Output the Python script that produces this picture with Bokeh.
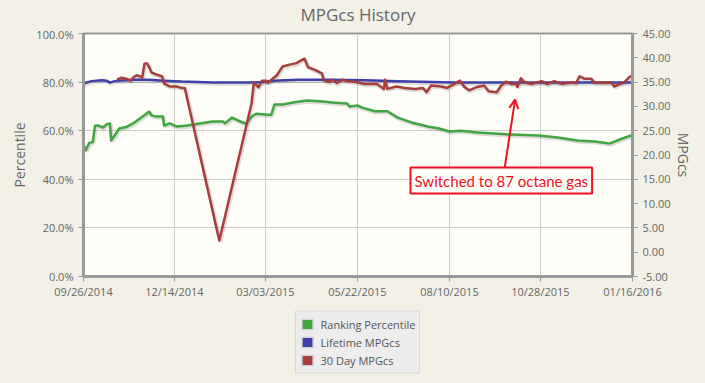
import pandas as pd
from bokeh.plotting import figure
from bokeh.layouts import column
from bokeh.models import (Range1d, LinearAxis, FixedTicker, DatetimeTickFormatter,
                          PrintfTickFormatter, Legend, LegendItem, Label, Arrow,
                          OpenHead, ColumnDataSource)
from bokeh.transform import dodge
from bokeh.embed import file_html
from bokeh.resources import INLINE

# ---------------- data ----------------
title_text = "MPGcs History"
x_tick_labels = ["09/26/2014", "12/14/2014", "03/03/2015", "05/22/2015",
                 "08/10/2015", "10/28/2015", "01/16/2016"]
pct_ticks = [0, 20, 40, 60, 80, 100]
mpg_ticks = [-5, 0, 5, 10, 15, 20, 25, 30, 35, 40, 45]

rank_dates = ["2014-09-26", "2014-09-28", "2014-10-01", "2014-10-04", "2014-10-06", "2014-10-09",
              "2014-10-13", "2014-10-16", "2014-10-19", "2014-10-20", "2014-10-23", "2014-10-27",
              "2014-11-02", "2014-11-08", "2014-11-14", "2014-11-20", "2014-11-22", "2014-11-24",
              "2014-11-28", "2014-12-04", "2014-12-05", "2014-12-10", "2014-12-16", "2014-12-25",
              "2015-01-05", "2015-01-16", "2015-01-25", "2015-01-27", "2015-02-02", "2015-02-09",
              "2015-02-14", "2015-02-19", "2015-02-23", "2015-03-08", "2015-03-11", "2015-03-18",
              "2015-03-27", "2015-04-08", "2015-04-22", "2015-04-30", "2015-05-13", "2015-05-15",
              "2015-05-22", "2015-05-26", "2015-06-06", "2015-06-17", "2015-06-26", "2015-07-08",
              "2015-07-22", "2015-07-31", "2015-08-10", "2015-08-20", "2015-09-03", "2015-09-18",
              "2015-10-03", "2015-10-26", "2015-11-12", "2015-11-29", "2015-12-14", "2015-12-27",
              "2016-01-07", "2016-01-15"]
rank_pct = [54, 52, 55, 55.3, 62, 62.1, 61.3, 62.6, 63, 56, 58, 60.9,
            61.5, 63, 65, 67.1, 67.9, 66.3, 65.8, 65.8, 62.1, 63, 61.7, 62.1,
            63, 63.8, 63.8, 63, 65.4, 63.8, 62.9, 65.8, 67.0, 66.5, 70.8, 70.8,
            71.6, 72.4, 72, 71.6, 71.2, 70, 70.4, 69.5, 68, 68, 65.4, 63.4,
            61.7, 61, 59.7, 60, 59.3, 58.8, 58.4, 58, 57.2, 56, 55.6, 54.7,
            56.8, 58]

life_dates = ["2014-09-26", "2014-10-03", "2014-10-12", "2014-10-16", "2014-10-19", "2014-10-23",
              "2014-11-07", "2014-11-21", "2014-12-05", "2014-12-20", "2015-01-17", "2015-02-16",
              "2015-03-02", "2015-03-11", "2015-03-31", "2015-04-29", "2015-05-28", "2015-06-26",
              "2015-07-25", "2015-08-14", "2016-01-16"]
life_mpg = [34.7, 35.2, 35.4, 35.3, 34.9, 35.2, 35.5, 35.5, 35.3, 35.1, 34.9, 34.9,
            35.0, 35.3, 35.5, 35.5, 35.4, 35.2, 35.0, 34.9, 34.9]

d30_dates = ["2014-10-25", "2014-10-29", "2014-11-02", "2014-11-06", "2014-11-08", "2014-11-11",
             "2014-11-14", "2014-11-16", "2014-11-18", "2014-11-20", "2014-11-22", "2014-11-24",
             "2014-11-28", "2014-12-03", "2014-12-04", "2014-12-05", "2014-12-10", "2014-12-16",
             "2014-12-20", "2014-12-23", "2015-01-22", "2015-02-19", "2015-02-21", "2015-02-25",
             "2015-02-28", "2015-03-04", "2015-03-05", "2015-03-13", "2015-03-18", "2015-03-24",
             "2015-03-30", "2015-04-04", "2015-04-06", "2015-04-09", "2015-04-16", "2015-04-21",
             "2015-04-23", "2015-04-28", "2015-04-30", "2015-05-04", "2015-05-09", "2015-05-13",
             "2015-05-21", "2015-05-28", "2015-06-08", "2015-06-14", "2015-06-15", "2015-06-17",
             "2015-06-25", "2015-07-02", "2015-07-11", "2015-07-18", "2015-07-21", "2015-07-25",
             "2015-08-03", "2015-08-08", "2015-08-14", "2015-08-19", "2015-08-23", "2015-08-27",
             "2015-09-03", "2015-09-09", "2015-09-13", "2015-09-20", "2015-09-24", "2015-09-28",
             "2015-10-03", "2015-10-07", "2015-10-08", "2015-10-11", "2015-10-14", "2015-10-20",
             "2015-10-29", "2015-11-03", "2015-11-09", "2015-11-16", "2015-11-24", "2015-11-28",
             "2015-12-01", "2015-12-05", "2015-12-11", "2015-12-14", "2015-12-29", "2015-12-31",
             "2016-01-05", "2016-01-09", "2016-01-13", "2016-01-16"]
d30_mpg = [35.5, 35.9, 35.7, 35.3, 35.9, 36.4, 36.2, 35.9, 38.8, 38.9, 38.1, 37.0,
           36.6, 36.2, 35.7, 34.7, 34.1, 34.1, 33.8, 33.8, 2.4, 30.6, 34.9, 33.9,
           35.3, 35.3, 34.8, 36.4, 38.2, 38.6, 38.9, 39.6, 39.8, 38.1, 37.4, 36.8,
           35.3, 35.0, 35.5, 34.8, 35.5, 35.2, 35.0, 34.6, 34.6, 33.6, 35.5, 33.6,
           34.1, 33.8, 33.6, 33.8, 32.9, 34.3, 34.1, 33.8, 34.6, 35.3, 34.0, 33.3,
           34.0, 34.3, 33.1, 32.9, 34.3, 35.1, 34.6, 34.6, 34.0, 35.8, 35.0, 34.6,
           35.2, 34.6, 35.2, 34.6, 35.0, 34.8, 36.2, 35.7, 35.7, 34.9, 34.9, 34.1,
           34.6, 35.0, 36.0, 36.4]

series_names = ["Ranking Percentile", "Lifetime MPGcs", "30 Day MPGcs"]

# annotation
note_text = "Switched to 87 octane gas"
note_date = "2015-09-24"
note_pct = 39.5
arrow_start = ("2015-09-27", 44.9)
arrow_end = ("2015-10-06", 72.8)

# ---------------- styles ----------------
PAGE_BG = "#F3F1E6"
PLOT_BG = "#FFFDF7"
GREEN = "#40A640"
BLUE = "#3F3FAD"
RED = "#A83D3D"
NOTE_RED = "#EE1122"
TXT = "#666666"
FONT = "Open Sans"


def strip(height):
    f = figure(width=705, height=height, output_backend="svg", toolbar_location=None,
               x_range=Range1d(0, 1), y_range=Range1d(0, 1),
               x_axis_location=None, y_axis_location=None,
               min_border=0, min_border_left=0, min_border_right=0,
               min_border_top=0, min_border_bottom=0)
    f.xgrid.visible = False
    f.ygrid.visible = False
    f.outline_line_color = None
    f.background_fill_color = PAGE_BG
    f.border_fill_color = PAGE_BG
    return f


# ----- title strip -----
head = strip(26)
head.add_layout(Label(x=0.5, y=0.46, text=title_text, text_align="center",
                      text_baseline="middle", text_font=FONT, text_font_size="17px",
                      text_color=TXT))

# ----- main chart -----
tick_ts = pd.to_datetime(x_tick_labels, format="%m/%d/%Y")
tick_ms = [t.value / 1e6 for t in tick_ts]

chart = figure(frame_width=549, frame_height=243, output_backend="svg", toolbar_location=None,
               x_axis_type="datetime",
               x_range=Range1d(tick_ts[0], tick_ts[-1]),
               y_range=Range1d(0, 100),
               min_border_left=83, min_border_right=73, min_border_top=7,
               min_border_bottom=30)
chart.extra_y_ranges = {"mpg": Range1d(-5, 45)}

chart.background_fill_color = PLOT_BG
chart.border_fill_color = PAGE_BG
chart.outline_line_color = "#9A9A9A"
chart.outline_line_width = 2

xt = FixedTicker(ticks=tick_ms)
chart.xaxis.ticker = xt
chart.xaxis.formatter = DatetimeTickFormatter(days="%m/%d/%Y", months="%m/%d/%Y",
                                              years="%m/%d/%Y", hours="%m/%d/%Y")
yt = FixedTicker(ticks=pct_ticks)
chart.yaxis.ticker = yt
chart.yaxis.formatter = PrintfTickFormatter(format="%.1f%%")
chart.yaxis.axis_label = "Percentile"

right = LinearAxis(y_range_name="mpg", ticker=FixedTicker(ticks=mpg_ticks),
                   formatter=PrintfTickFormatter(format="%.2f"), axis_label="MPGcs")
chart.add_layout(right, "right")

for ax in [chart.xaxis[0], chart.yaxis[0], right]:
    ax.axis_line_color = "#999999"
    ax.axis_line_width = 3
    ax.major_tick_line_color = "#999999"
    ax.major_tick_line_width = 1
    ax.major_tick_out = 5
    ax.major_tick_in = 0
    ax.minor_tick_line_color = None
    ax.major_label_text_font = FONT
    ax.major_label_text_font_size = "11px"
    ax.major_label_text_color = TXT
    ax.major_label_standoff = 5
    ax.axis_label_text_font = FONT
    ax.axis_label_text_font_size = "14px"
    ax.axis_label_text_color = TXT
    ax.axis_label_text_font_style = "normal"
chart.xaxis[0].major_label_standoff = 2
chart.yaxis[0].axis_label_standoff = 4
right.axis_label_standoff = 0

chart.xgrid.ticker = xt
chart.ygrid.ticker = yt
chart.xgrid.grid_line_color = "#CCCCCC"
chart.ygrid.grid_line_color = "#CCCCCC"

src_rank = ColumnDataSource(dict(x=pd.to_datetime(rank_dates), y=rank_pct))
src_life = ColumnDataSource(dict(x=pd.to_datetime(life_dates), y=life_mpg))
src_d30 = ColumnDataSource(dict(x=pd.to_datetime(d30_dates), y=d30_mpg))

DAY_PX = 0.87 * 86400000  # one pixel along x, in ms

# soft shadows under the lines
chart.line(x=dodge("x", DAY_PX, range=chart.x_range), y=dodge("y", -0.5), source=src_rank,
           line_color="black", line_alpha=0.13, line_width=4)
chart.line(x=dodge("x", DAY_PX, range=chart.x_range), y=dodge("y", -0.25), source=src_life,
           y_range_name="mpg", line_color="black", line_alpha=0.13, line_width=4)
chart.line(x=dodge("x", DAY_PX, range=chart.x_range), y=dodge("y", -0.25), source=src_d30,
           y_range_name="mpg", line_color="black", line_alpha=0.13, line_width=4)

chart.line("x", "y", source=src_rank, line_color=GREEN, line_width=2.5, line_join="round")
chart.line("x", "y", source=src_life, y_range_name="mpg", line_color=BLUE, line_width=2.5,
           line_join="round")
chart.line("x", "y", source=src_d30, y_range_name="mpg", line_color=RED, line_width=2.5,
           line_join="round")

chart.add_layout(Arrow(end=OpenHead(size=9, line_color=NOTE_RED, line_width=2),
                       x_start=pd.Timestamp(arrow_start[0]).value / 1e6, y_start=arrow_start[1],
                       x_end=pd.Timestamp(arrow_end[0]).value / 1e6, y_end=arrow_end[1],
                       line_color=NOTE_RED, line_width=2))
chart.add_layout(Label(x=pd.Timestamp(note_date).value / 1e6, y=note_pct, text=note_text,
                       text_align="center", text_baseline="middle", text_font="Lato",
                       text_font_size="15px", text_color=NOTE_RED, padding=4,
                       border_line_color=NOTE_RED, border_line_width=2,
                       background_fill_color=PLOT_BG, background_fill_alpha=1))

# ----- legend strip -----
leg = strip(71)
nan = float("nan")
swatch_src = ColumnDataSource(dict(left=[nan], right=[nan], top=[nan], bottom=[nan]))
items = []
for name, col in zip(series_names, [GREEN, BLUE, RED]):
    r = leg.quad(left="left", right="right", top="top", bottom="bottom", source=swatch_src,
                 fill_color=col, line_color="#D6D6D6", line_width=1.5)
    items.append(LegendItem(label=name, renderers=[r]))

legend = Legend(items=items, location="center", orientation="vertical",
                background_fill_color="#EDEDED", background_fill_alpha=1,
                border_line_color="#C4C4C4", border_line_width=1,
                label_text_font=FONT, label_text_font_size="11px", label_text_color="#555555",
                glyph_width=14, glyph_height=13, label_height=17, spacing=1,
                padding=4, margin=0, label_standoff=7)
leg.add_layout(legend)

p = column(head, chart, leg, spacing=0)

html = file_html(p, INLINE)
html = html.replace("</head>", "<style>body{background:%s;}</style></head>" % PAGE_BG, 1)
open("out.html", "w").write(html)
